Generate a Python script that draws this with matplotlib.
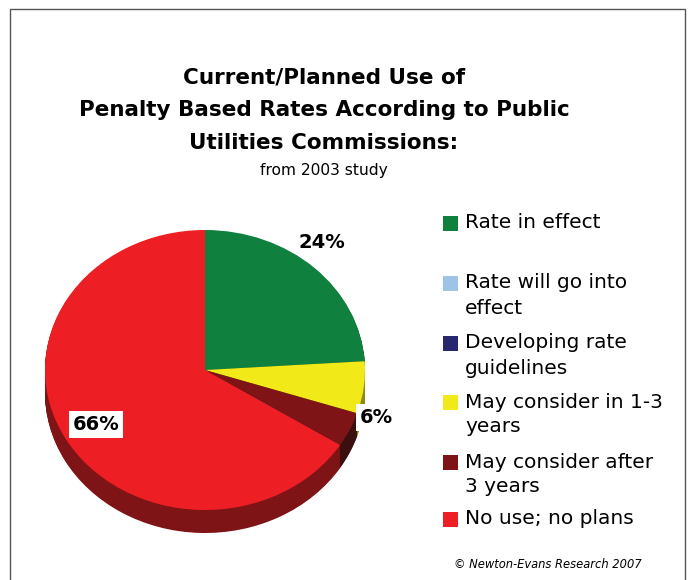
import matplotlib
matplotlib.use("Agg")
import matplotlib.pyplot as plt
from matplotlib.patches import Rectangle

# ---- data ----
categories = ["Rate in effect", "Rate will go into\neffect", "Developing rate\nguidelines",
              "May consider in 1-3\nyears", "May consider after\n3 years", "No use; no plans"]
values = [24, 0, 0, 6, 4, 66]
labels_shown = ["24%", "", "", "6%", "", "66%"]
top_colors = ["#10803f", "#9dc3e6", "#27286e", "#f2e918", "#7f1416", "#ed1f24"]
side_colors = ["#0a4f27", "#6d8aa5", "#1a1b4d", "#8c8a1a", "#3b0e0f", "#7f1416"]

W, H = 690, 580
fig = plt.figure(figsize=(W / 100, H / 100), dpi=100)
fig.patch.set_facecolor("white")

def fx(x):
    return x / W

def fy(y):
    return 1 - y / H

# border
fig.patches.append(Rectangle((fx(10), -0.1), fx(685) - fx(10), fy(9) + 0.1,
                             transform=fig.transFigure, fill=False,
                             edgecolor="#555555", linewidth=1.0))

# titles
title_lines = ["Current/Planned Use of", "Penalty Based Rates According to Public",
               "Utilities Commissions:"]
for i, t in enumerate(title_lines):
    fig.text(fx(324), fy(78 + 32.5 * i), t, ha="center", va="center",
             fontsize=15.5, fontweight="bold", family="DejaVu Sans")
fig.text(fx(324), fy(171), "from 2003 study", ha="center", va="center",
         fontsize=11.2, family="DejaVu Sans")

# pie (3-D look)
cx, top_px, rx, ry, depth = 205, 230, 160, 140, 23
dd = depth / ry
ax = fig.add_axes([fx(cx - rx), fy(top_px + 2 * ry + depth), 2 * rx / W, (2 * ry + depth) / H])
nlayers = 30
for k in range(nlayers, 0, -1):
    off = dd * k / nlayers
    ax.pie(values, colors=side_colors, startangle=90, counterclock=False,
           center=(0, -off), radius=1, wedgeprops=dict(linewidth=0))
ax.pie(values, colors=top_colors, startangle=90, counterclock=False,
       center=(0, 0), radius=1, wedgeprops=dict(linewidth=0))
ax.set_aspect("auto")
ax.set_xlim(-1, 1)
ax.set_ylim(-1 - dd, 1)
ax.axis("off")

# value labels
label_pos = {0: (0.73, 0.91), 3: (1.07, -0.34), 5: (-0.68, -0.39)}
for i, (lab, (lx, ly)) in enumerate(zip(labels_shown, [label_pos.get(j, (0, 0)) for j in range(len(values))])):
    if not lab:
        continue
    bbox = None if i == 0 else dict(boxstyle="square,pad=0.2", facecolor="white", edgecolor="none")
    ax.text(lx, ly, lab, ha="center", va="center", fontsize=14, fontweight="bold",
            family="DejaVu Sans", bbox=bbox, clip_on=False)

# legend
leg_y = [223, 283, 343, 402, 462, 519]
for cat, col, y in zip(categories, top_colors, leg_y):
    fig.patches.append(Rectangle((fx(443), fy(y + 7.5)), 15 / W, 15 / H,
                                 transform=fig.transFigure, facecolor=col, edgecolor="none"))
    for j, line in enumerate(cat.split("\n")):
        fig.text(fx(465), fy(y + 25 * j), line, ha="left", va="center",
                 fontsize=14.5, family="DejaVu Sans")

fig.text(fx(548), fy(564), "\u00a9 Newton-Evans Research 2007", ha="center", va="center",
         fontsize=8.3, style="italic", family="DejaVu Sans")

fig.savefig("out.png", dpi=100, facecolor="white")
